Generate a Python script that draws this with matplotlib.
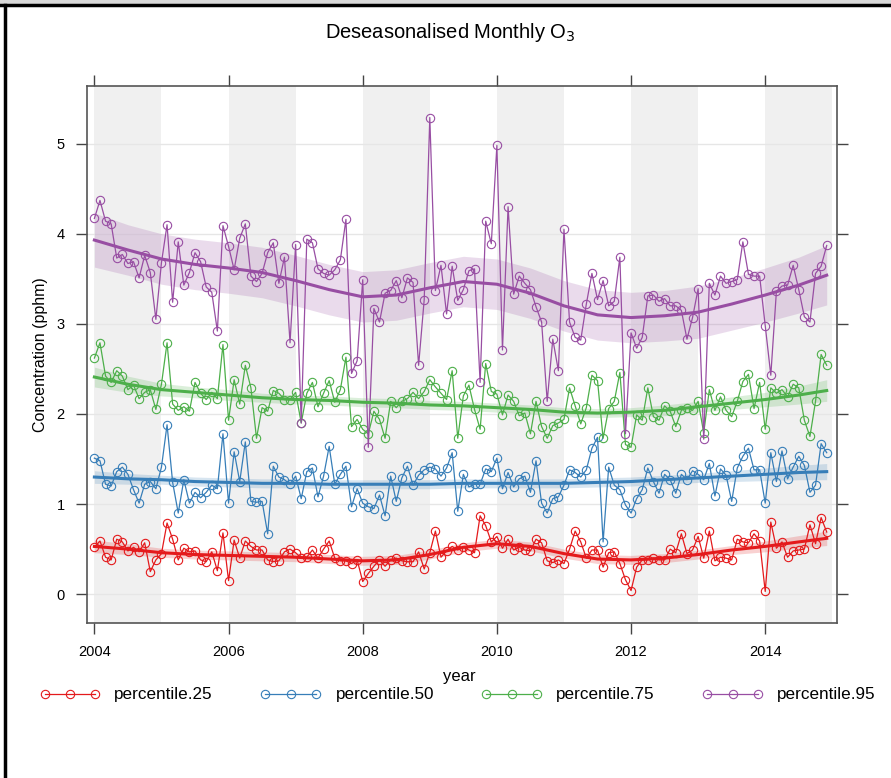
import matplotlib
matplotlib.use("Agg")
import matplotlib.pyplot as plt
from matplotlib.lines import Line2D
from matplotlib.patches import Rectangle
import numpy as np

plt.rcParams["font.family"] = ["Liberation Sans", "DejaVu Sans"]

# monthly values, Jan 2004 .. Dec 2014
p25 = [0.52, 0.59, 0.41, 0.38, 0.61, 0.58, 0.48, 0.52, 0.47, 0.57,
       0.25, 0.38, 0.45, 0.79, 0.61, 0.38, 0.51, 0.47, 0.48, 0.38,
       0.36, 0.47, 0.26, 0.68, 0.15, 0.60, 0.40, 0.59, 0.53, 0.49,
       0.49, 0.38, 0.36, 0.37, 0.47, 0.50, 0.46, 0.40, 0.41, 0.49,
       0.40, 0.50, 0.59, 0.40, 0.37, 0.37, 0.34, 0.38, 0.14, 0.23,
       0.31, 0.38, 0.31, 0.38, 0.40, 0.37, 0.36, 0.36, 0.47, 0.28,
       0.46, 0.70, 0.41, 0.48, 0.53, 0.49, 0.52, 0.49, 0.46, 0.87,
       0.76, 0.58, 0.64, 0.51, 0.61, 0.49, 0.52, 0.49, 0.48, 0.61,
       0.57, 0.37, 0.35, 0.38, 0.34, 0.50, 0.70, 0.58, 0.40, 0.49,
       0.49, 0.30, 0.46, 0.47, 0.34, 0.16, 0.04, 0.30, 0.38, 0.38,
       0.40, 0.38, 0.38, 0.50, 0.46, 0.67, 0.45, 0.49, 0.64, 0.40,
       0.70, 0.37, 0.41, 0.40, 0.38, 0.61, 0.58, 0.57, 0.67, 0.59,
       0.03, 0.80, 0.51, 0.58, 0.41, 0.48, 0.49, 0.50, 0.77, 0.56,
       0.85, 0.69]

p50 = [1.51, 1.48, 1.22, 1.20, 1.36, 1.41, 1.33, 1.16, 1.01, 1.22,
       1.25, 1.17, 1.41, 1.88, 1.24, 0.90, 1.27, 1.01, 1.13, 1.07,
       1.13, 1.21, 1.17, 1.78, 1.01, 1.58, 1.25, 1.69, 1.03, 1.02,
       1.03, 0.67, 1.42, 1.30, 1.27, 1.22, 1.31, 1.06, 1.36, 1.40,
       1.08, 1.31, 1.64, 1.22, 1.33, 1.42, 0.97, 1.17, 1.01, 0.97,
       0.95, 1.10, 0.87, 1.31, 1.03, 1.29, 1.42, 1.21, 1.32, 1.38,
       1.41, 1.39, 1.31, 1.40, 1.57, 0.92, 1.33, 1.19, 1.22, 1.22,
       1.39, 1.36, 1.51, 1.17, 1.35, 1.19, 1.28, 1.31, 1.13, 1.48,
       1.01, 0.90, 1.06, 1.08, 1.21, 1.38, 1.35, 1.30, 1.38, 1.62,
       1.74, 0.58, 1.41, 1.21, 1.16, 0.99, 0.90, 1.06, 1.16, 1.40,
       1.25, 1.12, 1.33, 1.27, 1.12, 1.33, 1.27, 1.37, 1.33, 1.27,
       1.45, 1.09, 1.39, 1.32, 1.03, 1.40, 1.53, 1.62, 1.38, 1.38,
       1.01, 1.57, 1.25, 1.59, 1.28, 1.41, 1.53, 1.43, 1.13, 1.21,
       1.67, 1.57]

p75 = [2.62, 2.79, 2.42, 2.35, 2.48, 2.42, 2.27, 2.32, 2.17, 2.24,
       2.27, 2.05, 2.33, 2.79, 2.11, 2.04, 2.08, 2.03, 2.35, 2.23,
       2.16, 2.24, 2.17, 2.77, 1.93, 2.38, 2.11, 2.54, 2.29, 1.73,
       2.07, 2.03, 2.26, 2.23, 2.16, 2.16, 2.24, 1.90, 2.23, 2.35,
       2.08, 2.23, 2.37, 2.13, 2.27, 2.63, 1.86, 1.94, 1.83, 1.78,
       2.03, 1.94, 1.73, 2.14, 2.07, 2.14, 2.17, 2.24, 2.17, 2.25,
       2.38, 2.30, 2.23, 2.16, 2.48, 1.73, 2.20, 2.32, 2.05, 1.83,
       2.56, 2.25, 2.22, 1.99, 2.21, 2.14, 1.98, 2.01, 1.78, 2.14,
       1.86, 1.73, 1.87, 1.90, 1.94, 2.29, 2.09, 1.89, 2.07, 2.43,
       2.37, 1.73, 2.06, 2.14, 2.46, 1.66, 1.63, 1.99, 1.93, 2.29,
       1.97, 1.93, 2.09, 2.03, 1.86, 2.04, 2.07, 2.04, 2.14, 1.79,
       2.27, 2.04, 2.19, 2.04, 1.97, 2.14, 2.36, 2.44, 2.06, 2.35,
       1.83, 2.29, 2.23, 2.27, 2.19, 2.33, 2.29, 1.93, 1.75, 2.14,
       2.66, 2.54]

p95 = [4.17, 4.37, 4.14, 4.11, 3.73, 3.77, 3.67, 3.69, 3.51, 3.76,
       3.57, 3.05, 3.68, 4.10, 3.24, 3.91, 3.43, 3.57, 3.79, 3.69,
       3.41, 3.35, 2.92, 4.09, 3.86, 3.60, 3.95, 4.11, 3.53, 3.47,
       3.56, 3.79, 3.90, 3.45, 3.74, 2.79, 3.88, 1.90, 3.94, 3.90,
       3.61, 3.56, 3.54, 3.60, 3.71, 4.16, 2.45, 2.59, 3.49, 1.63,
       3.17, 3.02, 3.34, 3.37, 3.48, 3.29, 3.51, 3.46, 2.54, 3.27,
       5.29, 3.37, 3.65, 3.11, 3.64, 3.26, 3.38, 3.59, 3.61, 2.35,
       4.14, 3.89, 4.98, 2.71, 4.30, 3.33, 3.53, 3.45, 3.38, 3.19,
       3.02, 2.14, 2.83, 2.48, 4.05, 3.02, 2.85, 2.82, 3.22, 3.56,
       3.27, 3.48, 3.20, 3.25, 3.74, 1.78, 2.90, 2.73, 2.85, 3.31,
       3.32, 3.25, 3.28, 3.20, 3.20, 3.15, 2.83, 3.07, 3.39, 1.72,
       3.45, 3.32, 3.53, 3.45, 3.47, 3.49, 3.91, 3.55, 3.53, 3.53,
       2.98, 2.43, 3.36, 3.42, 3.43, 3.65, 3.38, 3.08, 3.02, 3.56,
       3.64, 3.87]

# smooth trend every six months, with band half-widths
knot_month = [0, 6, 12, 18, 24, 30, 36, 42, 48, 54, 60, 66,
              72, 78, 84, 90, 96, 102, 108, 114, 120, 126, 131]
trend25 = [0.53, 0.50, 0.46, 0.44, 0.43, 0.42, 0.41, 0.39, 0.37, 0.38, 0.44, 0.52,
           0.56, 0.53, 0.45, 0.39, 0.38, 0.40, 0.44, 0.49, 0.53, 0.58, 0.62]
trend50 = [1.30, 1.28, 1.27, 1.25, 1.24, 1.23, 1.23, 1.22, 1.22, 1.22, 1.22, 1.23,
           1.23, 1.23, 1.23, 1.24, 1.25, 1.27, 1.29, 1.31, 1.33, 1.35, 1.36]
trend75 = [2.41, 2.33, 2.27, 2.24, 2.21, 2.18, 2.16, 2.15, 2.13, 2.12, 2.10, 2.09,
           2.07, 2.05, 2.02, 2.01, 2.02, 2.04, 2.08, 2.12, 2.16, 2.21, 2.26]
trend95 = [3.93, 3.82, 3.72, 3.66, 3.62, 3.57, 3.48, 3.38, 3.30, 3.32, 3.40, 3.47,
           3.44, 3.34, 3.20, 3.10, 3.07, 3.09, 3.13, 3.22, 3.32, 3.43, 3.54]
band25 = [0.07, 0.06, 0.05, 0.05, 0.05, 0.05, 0.05, 0.05, 0.05, 0.05, 0.05, 0.05,
          0.05, 0.05, 0.05, 0.05, 0.05, 0.05, 0.05, 0.05, 0.06, 0.07, 0.08]
band50 = [0.07, 0.06, 0.05, 0.05, 0.05, 0.05, 0.05, 0.05, 0.05, 0.05, 0.05, 0.05,
          0.05, 0.05, 0.05, 0.05, 0.05, 0.05, 0.05, 0.06, 0.07, 0.08, 0.09]
band75 = [0.11, 0.09, 0.07, 0.06, 0.06, 0.05, 0.05, 0.05, 0.05, 0.05, 0.05, 0.05,
          0.05, 0.05, 0.05, 0.05, 0.05, 0.06, 0.06, 0.07, 0.08, 0.10, 0.12]
band95 = [0.30, 0.28, 0.28, 0.28, 0.28, 0.28, 0.28, 0.28, 0.28, 0.28, 0.28, 0.28,
          0.28, 0.28, 0.28, 0.28, 0.28, 0.28, 0.29, 0.29, 0.30, 0.31, 0.33]

labels = ["percentile.25", "percentile.50", "percentile.75", "percentile.95"]
colors = ["#E41A1C", "#377EB8", "#4DAF4A", "#984EA3"]
series = [p25, p50, p75, p95]
trends = [trend25, trend50, trend75, trend95]
bands = [band25, band50, band75, band95]

t = 2004 + np.arange(len(p25)) / 12
tk = 2004 + np.array(knot_month) / 12

fig = plt.figure(figsize=(8.91, 7.78), dpi=100)
ax = fig.add_axes([87 / 891, 1 - 623 / 778, 750 / 891, 537 / 778])

# alternating year shading
for yr in range(2004, 2015, 2):
    ax.axvspan(yr, yr + 1, color="#F0F0F0", lw=0, zorder=0)
for yv in range(6):
    ax.axhline(yv, color="#E6E6E6", lw=1, zorder=0.5)

for vals, tr, bw, c in zip(series, trends, bands, colors):
    tr = np.array(tr)
    bw = np.array(bw)
    ax.fill_between(tk, tr - bw, tr + bw, color=c, alpha=0.2, lw=0, zorder=1)
    ax.plot(t, vals, color=c, lw=0.9, marker="o", ms=6, mfc="none",
            mec=c, mew=0.8, zorder=2)
    ax.plot(tk, tr, color=c, lw=2.2, zorder=3)

ax.set_xlim(2003.89, 2015.07)
ax.set_ylim(-0.32, 5.64)
ax.set_xticks(range(2004, 2015, 2))
ax.set_yticks(range(6))
ax.tick_params(axis="both", direction="out", length=8, width=1, color="#444444",
               labelsize=10.5, top=True, right=True, pad=8)
for s in ax.spines.values():
    s.set_color("#555555")
    s.set_linewidth(1.2)
ax.set_ylabel("Concentration (pphm)", fontsize=11.5, labelpad=6)

fig.text(0.505, 1 - 33 / 778, "Deseasonalised Monthly O$_3$", ha="center",
         va="center", fontsize=14.5)
fig.text(459 / 891, 1 - 676 / 778, "year", ha="center", va="center", fontsize=12)

# legend row
ly = 1 - 694 / 778
leg_x = [(44.5, 94.6, 114), (265, 316, 336), (486, 537, 556), (707, 758, 777)]
for (x0, x1, xt), lab, c in zip(leg_x, labels, colors):
    xs = np.array([x0, (x0 + x1) / 2, x1]) / 891
    fig.add_artist(Line2D(xs, [ly] * 3, color=c, lw=0.9, marker="o", ms=6,
                          mfc="none", mec=c, mew=0.8))
    fig.text(xt / 891, ly, lab, ha="left", va="center", fontsize=12.3)

# window frame
fig.add_artist(Rectangle((0, 1 - 4 / 778), 1, 4 / 778, color="#D9D9D9", lw=0))
fig.add_artist(Line2D([0, 1], [1 - 5 / 778] * 2, color="black", lw=2.5))
fig.add_artist(Line2D([5 / 891] * 2, [0, 1 - 5 / 778], color="black", lw=2.5))

fig.savefig("out.png", dpi=100)
